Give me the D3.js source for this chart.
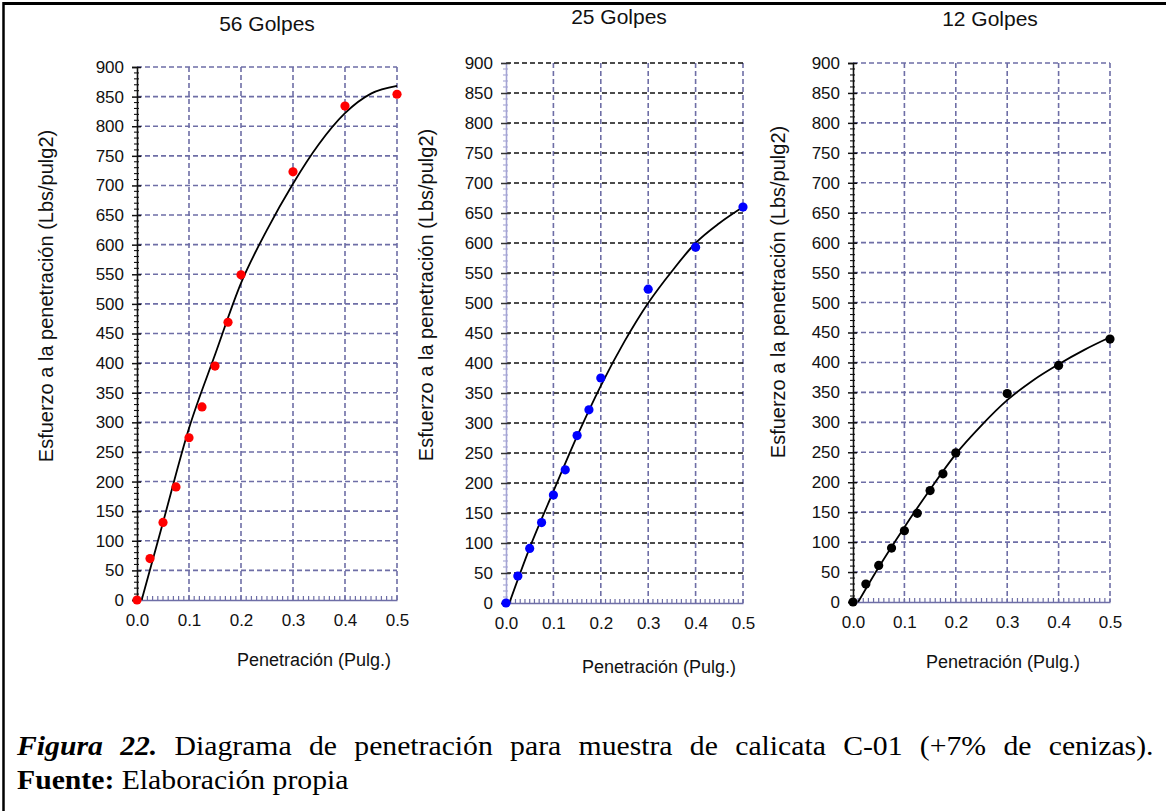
<!DOCTYPE html>
<html>
<head>
<meta charset="utf-8">
<script src="https://cdn.jsdelivr.net/npm/d3@7"></script>
<style>
  html, body { margin: 0; padding: 0; background: #fff; }
  svg { display: block; }
</style>
</head>
<body>
<svg id="chart" width="1166" height="811"></svg>
<script>
// ---------------- data ----------------
const penetration = [0, 0.025, 0.05, 0.075, 0.1, 0.125, 0.15, 0.175, 0.2, 0.3, 0.4, 0.5];
const stress56 = [0, 70, 131, 191, 274, 326, 395, 469, 549, 723, 834, 854];
const stress25 = [0, 45, 91, 134, 180, 222, 279, 322, 375, 523, 593, 660];
const stress12 = [0, 30, 61, 90, 119, 148, 186, 214, 249, 348, 395, 439];

// fitted curves
const fitX56 = [0.009, 0.05, 0.1, 0.15, 0.2, 0.25, 0.3, 0.35, 0.4, 0.45, 0.5];
const fitY56 = [0, 131, 290, 414, 535, 625, 703, 770, 822, 855, 868];
const fitX25 = [0.007, 0.05, 0.1, 0.15, 0.2, 0.25, 0.3, 0.35, 0.4, 0.45, 0.5];
const fitY25 = [0, 92, 186, 278, 362, 436, 500, 553, 600, 633, 660];
const fitX12 = [0.01, 0.05, 0.1, 0.15, 0.2, 0.25, 0.3, 0.35, 0.4, 0.45, 0.5];
const fitY12 = [0, 58, 125, 188, 247, 295, 337, 370, 397, 421, 442];

const titles = ["56 Golpes", "25 Golpes", "12 Golpes"];
const xTickValues = [0, 0.1, 0.2, 0.3, 0.4, 0.5];
const yTickValues = [0, 50, 100, 150, 200, 250, 300, 350, 400, 450, 500, 550, 600, 650, 700, 750, 800, 850, 900];
const xLabel = "Penetración (Pulg.)";
const yLabel = "Esfuerzo a la penetración (Lbs/pulg2)";
const captionBold = "Figura 22.";
const captionText = " Diagrama de penetración para muestra de calicata C-01 (+7% de cenizas).";
const sourceBold = "Fuente:";
const sourceText = " Elaboración propia";

// ---------------- layout ----------------
const GRID = "#6e6ea6";
const panels = [
  { title: titles[0], xs: penetration, ys: stress56, fx: fitX56, fy: fitY56, color: "#ff0000",
    x0: 137, x1: 397, yTop: 67, yBot: 600, titleX: 267, titleY: 31, xlX: 314, xlY: 666, ylX: 46, ylY: 296,
    hGrid: GRID, yAxisColor: "#111" },
  { title: titles[1], xs: penetration, ys: stress25, fx: fitX25, fy: fitY25, color: "#0000ff",
    x0: 506, x1: 743, yTop: 63, yBot: 603, titleX: 619, titleY: 24, xlX: 659, xlY: 673, ylX: 426, ylY: 295,
    hGrid: "#111", yAxisColor: "#a4a4d4" },
  { title: titles[2], xs: penetration, ys: stress12, fx: fitX12, fy: fitY12, color: "#000000",
    x0: 853, x1: 1110, yTop: 63, yBot: 602, titleX: 990, titleY: 26, xlX: 1003, xlY: 668, ylX: 778, ylY: 292,
    hGrid: GRID, yAxisColor: "#111" }
];

const svg = d3.select("#chart");
const FONT = "'Liberation Sans', Arial, sans-serif";

// outer frame (top and left borders)
svg.append("line").attr("x1", 3).attr("x2", 1166).attr("y1", 3.5).attr("y2", 3.5)
  .attr("stroke", "#000").attr("stroke-width", 3);
svg.append("line").attr("x1", 3.5).attr("x2", 3.5).attr("y1", 2).attr("y2", 811)
  .attr("stroke", "#000").attr("stroke-width", 2.5);

panels.forEach(p => {
  const x = d3.scaleLinear().domain([0, 0.5]).range([p.x0, p.x1]);
  const y = d3.scaleLinear().domain([0, 900]).range([p.yBot, p.yTop]);
  const g = svg.append("g");

  // vertical grid lines
  g.append("g").selectAll("line").data(xTickValues.filter(d => d > 0)).join("line")
    .attr("x1", d => x(d)).attr("x2", d => x(d))
    .attr("y1", y(900)).attr("y2", y(0))
    .attr("stroke", GRID).attr("stroke-width", 1.6).attr("stroke-dasharray", "5,3");

  // horizontal grid lines
  g.append("g").selectAll("line").data(yTickValues.filter(d => d > 0)).join("line")
    .attr("x1", x(0)).attr("x2", x(0.5))
    .attr("y1", d => y(d)).attr("y2", d => y(d))
    .attr("stroke", p.hGrid).attr("stroke-width", 1.6).attr("stroke-dasharray", "5,3");

  // x axis (bottom)
  const xAxis = d3.axisBottom(x).tickValues(xTickValues).tickFormat(d3.format(".1f")).tickSize(0).tickPadding(14);
  const gx = g.append("g").attr("transform", `translate(0,${p.yBot})`).call(xAxis);
  gx.select(".domain").attr("stroke", GRID).attr("stroke-width", 1.6);
  gx.selectAll("text").attr("font-family", FONT).attr("font-size", 17).attr("fill", "#111");
  // x minor ticks (inside)
  const xMinor = d3.scaleLinear().domain([0, 0.5]).ticks(50);
  g.append("g").selectAll("line").data(xMinor).join("line")
    .attr("x1", d => x(d)).attr("x2", d => x(d))
    .attr("y1", p.yBot).attr("y2", p.yBot - 4)
    .attr("stroke", GRID).attr("stroke-width", 1.2);

  // y axis (left)
  const yAxis = d3.axisLeft(y).tickValues(yTickValues).tickSize(5).tickPadding(8);
  const gy = g.append("g").attr("transform", `translate(${p.x0},0)`).call(yAxis);
  gy.select(".domain").attr("stroke", p.yAxisColor).attr("stroke-width", 1.6);
  gy.selectAll(".tick line").attr("stroke", p.yAxisColor === "#111" ? "#111" : "#333").attr("stroke-width", 1.5)
    .attr("x1", 4);
  gy.selectAll("text").attr("font-family", FONT).attr("font-size", 17).attr("fill", "#111");
  // y minor ticks
  const yMinor = y.ticks(90).filter(d => d % 50 !== 0);
  g.append("g").selectAll("line").data(yMinor).join("line")
    .attr("x1", p.x0 - 3).attr("x2", p.x0 + 2)
    .attr("y1", d => y(d)).attr("y2", d => y(d))
    .attr("stroke", p.yAxisColor).attr("stroke-width", 1.1);

  // fitted curve
  const fitData = p.fx.map((v, i) => [v, p.fy[i]]);
  g.append("path").datum(fitData)
    .attr("d", d3.line().x(d => x(d[0])).y(d => y(d[1])).curve(d3.curveMonotoneX))
    .attr("fill", "none").attr("stroke", "#000").attr("stroke-width", 1.8);

  // points
  g.append("g").selectAll("circle").data(p.xs.map((v, i) => [v, p.ys[i]])).join("circle")
    .attr("cx", d => x(d[0])).attr("cy", d => y(d[1])).attr("r", 4.6)
    .attr("fill", p.color);

  // titles and labels
  svg.append("text").attr("x", p.titleX).attr("y", p.titleY).attr("text-anchor", "middle")
    .attr("font-family", FONT).attr("font-size", 21).attr("fill", "#111").text(p.title);
  svg.append("text").attr("x", p.xlX).attr("y", p.xlY).attr("text-anchor", "middle")
    .attr("font-family", FONT).attr("font-size", 18).attr("fill", "#111").text(xLabel);
  svg.append("text").attr("transform", `translate(${p.ylX},${p.ylY}) rotate(-90)`)
    .attr("text-anchor", "middle").attr("dominant-baseline", "central")
    .attr("font-family", FONT).attr("font-size", 20).attr("fill", "#111").text(yLabel);
});

// caption
const SERIF = "'Liberation Serif', 'Times New Roman', serif";
const cap = svg.append("text").attr("transform", "translate(17,755) scale(1.1,1)")
  .attr("font-family", SERIF).attr("font-size", 27)
  .attr("word-spacing", 9).attr("fill", "#000");
cap.append("tspan").attr("font-weight", "bold").attr("font-style", "italic").text(captionBold);
cap.append("tspan").text(captionText);
const src = svg.append("text").attr("transform", "translate(17,789) scale(1.1,1)")
  .attr("font-family", SERIF).attr("font-size", 27).attr("fill", "#000");
src.append("tspan").attr("font-weight", "bold").text(sourceBold);
src.append("tspan").text(sourceText);
</script>
</body>
</html>
